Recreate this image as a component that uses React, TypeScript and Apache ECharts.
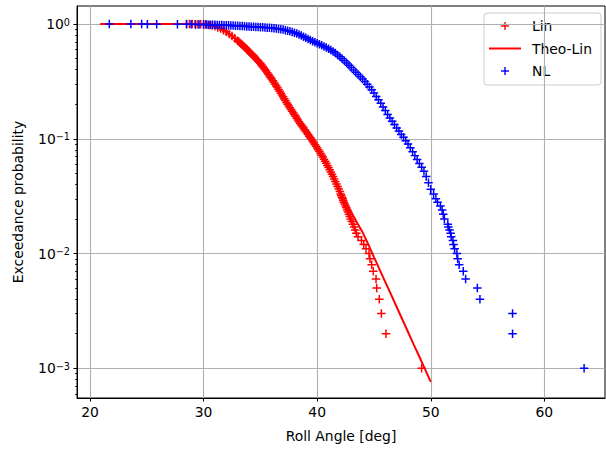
import React, { useEffect, useRef } from "react";
import * as echarts from "echarts";

// ---------- data ----------
const linAngle = [
  28.5, 28.75, 29.0, 29.25, 29.5, 29.75, 30.0, 30.25, 30.5, 30.75, 31.0, 31.25, 31.5, 31.75, 32.0, 32.25, 32.5, 32.75,
  33.0, 33.1, 33.2, 33.3, 33.4, 33.5, 33.6, 33.7, 33.8, 33.9, 34.0, 34.1, 34.2, 34.3, 34.4, 34.5, 34.6, 34.7, 34.8, 34.9,
  35.0, 35.1, 35.2, 35.3, 35.4, 35.5, 35.6, 35.7, 35.8, 35.9, 36.0, 36.1, 36.2, 36.3, 36.4, 36.5, 36.6, 36.7, 36.8, 36.9,
  37.0, 37.1, 37.2, 37.3, 37.4, 37.5, 37.6, 37.7, 37.8, 37.9, 38.0, 38.1, 38.2, 38.3, 38.4, 38.5, 38.6, 38.7, 38.8, 38.9,
  39.0, 39.1, 39.2, 39.3, 39.4, 39.5, 39.6, 39.7, 39.8, 39.9, 40.0, 40.1, 40.2, 40.3, 40.4, 40.5, 40.6, 40.7, 40.8, 40.9,
  41.0, 41.1, 41.2, 41.3, 41.4, 41.5, 41.6, 41.7, 41.8, 41.9, 42.0,
  42.07, 42.12, 42.18, 42.25, 42.3, 42.35, 42.42, 42.5, 42.57, 42.65, 42.72, 42.8, 42.87, 42.95, 43.05, 43.15, 43.25,
  43.35, 43.45, 43.6, 43.9, 44.1, 44.3, 44.56, 44.65, 44.8, 44.94, 45.18, 45.24, 45.47, 45.65, 46.06, 49.2,
];
const linProb = [
  1.0, 0.999, 0.998, 0.997, 0.996, 0.995, 0.993, 0.988, 0.982, 0.968, 0.955, 0.933, 0.912, 0.883, 0.855, 0.819, 0.785, 0.75,
  0.716, 0.702, 0.687, 0.673, 0.659, 0.646, 0.631, 0.617, 0.603, 0.589, 0.575, 0.562, 0.55, 0.537, 0.525, 0.513, 0.5, 0.488, 0.475, 0.463,
  0.452, 0.439, 0.426, 0.413, 0.401, 0.389, 0.377, 0.365, 0.353, 0.342, 0.331, 0.32, 0.309, 0.299, 0.288, 0.279, 0.269, 0.259, 0.249, 0.24,
  0.232, 0.223, 0.215, 0.207, 0.2, 0.193, 0.186, 0.18, 0.174, 0.168, 0.162, 0.157, 0.151, 0.146, 0.141, 0.136, 0.132, 0.128, 0.124, 0.12,
  0.116, 0.112, 0.109, 0.105, 0.102, 0.0989, 0.0955, 0.0923, 0.0891, 0.0861, 0.0832, 0.0802, 0.0773, 0.0745, 0.0718, 0.0692, 0.0664, 0.0637, 0.0611, 0.0586,
  0.0562, 0.0537, 0.0513, 0.049, 0.0468, 0.0447, 0.0425, 0.0404, 0.0384, 0.0365, 0.0347,
  0.033, 0.032, 0.031, 0.03, 0.029, 0.028, 0.027, 0.026, 0.025, 0.024, 0.023, 0.022, 0.021, 0.02, 0.019, 0.018, 0.017,
  0.016, 0.015, 0.014, 0.013, 0.012, 0.011, 0.01, 0.009, 0.008, 0.007, 0.006, 0.005, 0.004, 0.003, 0.002, 0.001,
];

const theoAngle = [
  20.9, 28, 29, 30, 30.5, 31, 31.5, 32, 32.5, 33, 33.5, 34, 34.5, 35, 35.5, 36, 36.5, 37, 37.5, 38, 38.5, 39, 39.5, 40,
  40.5, 41, 41.5, 42, 42.5, 43, 43.5, 44, 44.5, 45, 45.5, 46, 46.5, 47, 47.5, 48, 48.5, 49, 49.5, 50,
];
const theoProb = [
  1, 1, 0.999, 0.993, 0.982, 0.955, 0.912, 0.855, 0.785, 0.716, 0.646, 0.575, 0.513, 0.452, 0.389, 0.331, 0.279, 0.232,
  0.193, 0.162, 0.136, 0.116, 0.0989, 0.0832, 0.0692, 0.0562, 0.0447, 0.0351, 0.0282, 0.0229, 0.0186, 0.0153, 0.012,
  0.00931, 0.00724, 0.00564, 0.0044, 0.00342, 0.00266, 0.00207, 0.00161, 0.00126, 0.000977, 0.000762,
];

const nlAngle = [
  21.7, 23.6, 24.55, 25.05, 25.87, 27.7, 28.5, 28.9, 29.3, 29.6,
  30.0, 30.2, 30.4, 30.6, 30.8, 31.0, 31.2, 31.4, 31.6, 31.8, 32.0, 32.2, 32.4, 32.6, 32.8, 33.0, 33.2, 33.4, 33.6, 33.8,
  34.0, 34.2, 34.4, 34.6, 34.8, 35.0, 35.2, 35.4, 35.6, 35.8, 36.0, 36.2, 36.4, 36.6, 36.8, 37.0, 37.2, 37.4, 37.6, 37.8,
  38.0, 38.2, 38.4, 38.6, 38.8, 39.0, 39.2, 39.4, 39.6, 39.8, 40.0, 40.2, 40.4, 40.6, 40.8, 41.0, 41.2, 41.4, 41.6, 41.8,
  42.0, 42.2, 42.4, 42.6, 42.8, 43.0, 43.2, 43.4, 43.6, 43.8, 44.0, 44.2, 44.4, 44.6, 44.8, 45.0, 45.2, 45.4, 45.6, 45.8,
  46.0, 46.2, 46.4, 46.6, 46.8, 47.0, 47.2, 47.4, 47.6, 47.8, 48.0, 48.2, 48.4, 48.6, 48.8, 49.0, 49.2, 49.4, 49.6, 49.8, 50.0,
  50.25, 50.45, 50.6, 50.85, 51.0, 51.1, 51.2, 51.5, 51.55, 51.65, 51.75, 51.8, 51.95, 52.0, 52.1, 52.3, 52.37, 52.5,
  52.86, 53.07, 54.1, 54.33, 57.2, 57.2, 63.5,
];
const nlProb = [
  1.0, 0.999, 0.998, 0.997, 0.996, 0.995, 0.994, 0.993, 0.992, 0.991,
  0.99, 0.989, 0.987, 0.986, 0.985, 0.984, 0.982, 0.98, 0.979, 0.977, 0.975, 0.973, 0.971, 0.968, 0.966, 0.964, 0.961, 0.959, 0.956, 0.953,
  0.951, 0.948, 0.945, 0.943, 0.94, 0.938, 0.935, 0.932, 0.929, 0.926, 0.923, 0.917, 0.912, 0.906, 0.901, 0.895, 0.884, 0.873, 0.863, 0.852,
  0.841, 0.826, 0.811, 0.794, 0.776, 0.759, 0.741, 0.724, 0.709, 0.694, 0.679, 0.666, 0.652, 0.638, 0.624, 0.61, 0.593, 0.577, 0.558, 0.538,
  0.519, 0.498, 0.478, 0.457, 0.437, 0.417, 0.398, 0.38, 0.363, 0.347, 0.331, 0.315, 0.299, 0.283, 0.267, 0.251, 0.234, 0.219, 0.204, 0.189,
  0.176, 0.163, 0.152, 0.142, 0.133, 0.124, 0.117, 0.109, 0.103, 0.0962, 0.0902, 0.0834, 0.0771, 0.0713, 0.0659, 0.061, 0.0564, 0.0521, 0.047, 0.0413, 0.0363,
  0.033, 0.03, 0.028, 0.026, 0.024, 0.022, 0.02, 0.018, 0.017, 0.016, 0.015, 0.014, 0.013, 0.012, 0.011, 0.01, 0.009, 0.008,
  0.007, 0.006, 0.005, 0.004, 0.003, 0.002, 0.001,
];

const xTicks = [20, 30, 40, 50, 60];
const yMajorTicks = [0.001, 0.01, 0.1, 1];
const yMinorTicks = [
  0.0006, 0.0007, 0.0008, 0.0009,
  0.002, 0.003, 0.004, 0.005, 0.006, 0.007, 0.008, 0.009,
  0.02, 0.03, 0.04, 0.05, 0.06, 0.07, 0.08, 0.09,
  0.2, 0.3, 0.4, 0.5, 0.6, 0.7, 0.8, 0.9,
];
const legendNames = ["Lin", "Theo-Lin", "NL"];

const FONT = "DejaVu Sans";
const PLUS = "path://M0,3.3H8V4.7H0Z M3.3,0H4.7V8H3.3Z";

const zip = (a: number[], b: number[]) => a.map((v, i) => [v, b[i]]);

function plusMark(cx: number, cy: number, color: string) {
  return [
    { type: "line", shape: { x1: cx - 4, y1: cy, x2: cx + 4, y2: cy }, style: { stroke: color, lineWidth: 1.4 } },
    { type: "line", shape: { x1: cx, y1: cy - 4, x2: cx, y2: cy + 4 }, style: { stroke: color, lineWidth: 1.4 } },
  ];
}

export default function App() {
  const ref = useRef<HTMLDivElement>(null);
  useEffect(() => {
    if (!ref.current) return;
    const chart = echarts.init(ref.current, null, { renderer: "svg" });
    const supMap: Record<string, string> = { "0": "0", "-1": "\u22121", "-2": "\u22122", "-3": "\u22123" };
    const rowY = [26, 48.5, 71];
    const legendText = legendNames.map((n, i) => ({
      type: "text",
      x: 532,
      y: rowY[i],
      style: { text: n, fontFamily: FONT, fontSize: 13.9, fill: "#000", verticalAlign: "middle", align: "left" },
    }));
    chart.setOption({
      animation: false,
      backgroundColor: "#ffffff",
      grid: {
        left: 77,
        right: 1,
        top: 6,
        bottom: 52,
        containLabel: false,
        outerBoundsMode: "none",
        show: true,
        borderColor: "#000",
        borderWidth: 1,
      },
      xAxis: {
        type: "value",
        min: 18.855,
        max: 65.34,
        name: "Roll Angle [deg]",
        nameLocation: "middle",
        nameGap: 31,
        nameTextStyle: { fontFamily: FONT, fontSize: 13.9, color: "#000" },
        axisLine: { show: true, lineStyle: { color: "#000", width: 1 } },
        axisTick: { show: true, length: 3.5, customValues: xTicks, lineStyle: { color: "#000", width: 1 } },
        axisLabel: {
          customValues: xTicks,
          margin: 7,
          fontFamily: FONT,
          fontSize: 13.9,
          color: "#000",
        },
        splitLine: { show: true, lineStyle: { color: "#b0b0b0", width: 1.1 } },
      },
      yAxis: [
        {
          type: "log",
          logBase: 10,
          min: 0.000551,
          max: 1.435,
          position: "left",
          name: "Exceedance probability",
          nameLocation: "middle",
          nameGap: 52,
          nameTextStyle: { fontFamily: FONT, fontSize: 13.9, color: "#000" },
          axisLine: { show: true, lineStyle: { color: "#000", width: 1 } },
          axisTick: { show: true, length: 3.5, customValues: yMajorTicks, lineStyle: { color: "#000", width: 1 } },
          axisLabel: {
            customValues: yMajorTicks,
            margin: 7,
            formatter: (v: number) => {
              const e = String(Math.round(Math.log10(v)));
              return "{b|10}{s|" + (supMap[e] ?? e) + "}";
            },
            rich: {
              b: { fontFamily: FONT, fontSize: 13.9, color: "#000", verticalAlign: "bottom" },
              s: { fontFamily: FONT, fontSize: 9.7, color: "#000", verticalAlign: "top" },
            },
          },
          splitLine: { show: true, lineStyle: { color: "#b0b0b0", width: 1.1 } },
        },
        {
          type: "log",
          logBase: 10,
          min: 0.000551,
          max: 1.435,
          position: "left",
          offset: 0,
          axisLine: { show: false },
          axisTick: { show: true, length: 2, customValues: yMinorTicks, lineStyle: { color: "#000", width: 0.8 } },
          axisLabel: { show: false },
          splitLine: { show: false },
        },
      ],
      graphic: [
        {
          type: "group",
          z: 100,
          children: [
            {
              type: "rect",
              shape: { x: 484, y: 13, width: 117, height: 72, r: 3 },
              style: { fill: "rgba(255,255,255,0.8)", stroke: "#cccccc", lineWidth: 1 },
            },
            ...plusMark(505, rowY[0], "#ff0000"),
            { type: "line", shape: { x1: 489, y1: rowY[1], x2: 521, y2: rowY[1] }, style: { stroke: "#ff0000", lineWidth: 2 } },
            ...plusMark(505, rowY[2], "#0000ff"),
            ...legendText,
          ],
        },
      ],
      series: [
        {
          name: "Lin",
          type: "scatter",
          yAxisIndex: 0,
          symbol: PLUS,
          symbolSize: 8.5,
          itemStyle: { color: "#ff0000", opacity: 1 },
          data: zip(linAngle, linProb),
          z: 2,
        },
        {
          name: "Theo-Lin",
          type: "line",
          yAxisIndex: 0,
          showSymbol: false,
          symbol: "none",
          lineStyle: { color: "#ff0000", width: 2 },
          itemStyle: { color: "#ff0000" },
          data: zip(theoAngle, theoProb),
          z: 3,
        },
        {
          name: "NL",
          type: "scatter",
          yAxisIndex: 0,
          symbol: PLUS,
          symbolSize: 8.5,
          itemStyle: { color: "#0000ff", opacity: 1 },
          data: zip(nlAngle, nlProb),
          z: 4,
        },
      ],
    });
    return () => chart.dispose();
  }, []);
  return (
    <div
      ref={ref}
      style={{ position: "fixed", left: 0, top: 0, width: 606, height: 450, background: "#fff" }}
    />
  );
}
